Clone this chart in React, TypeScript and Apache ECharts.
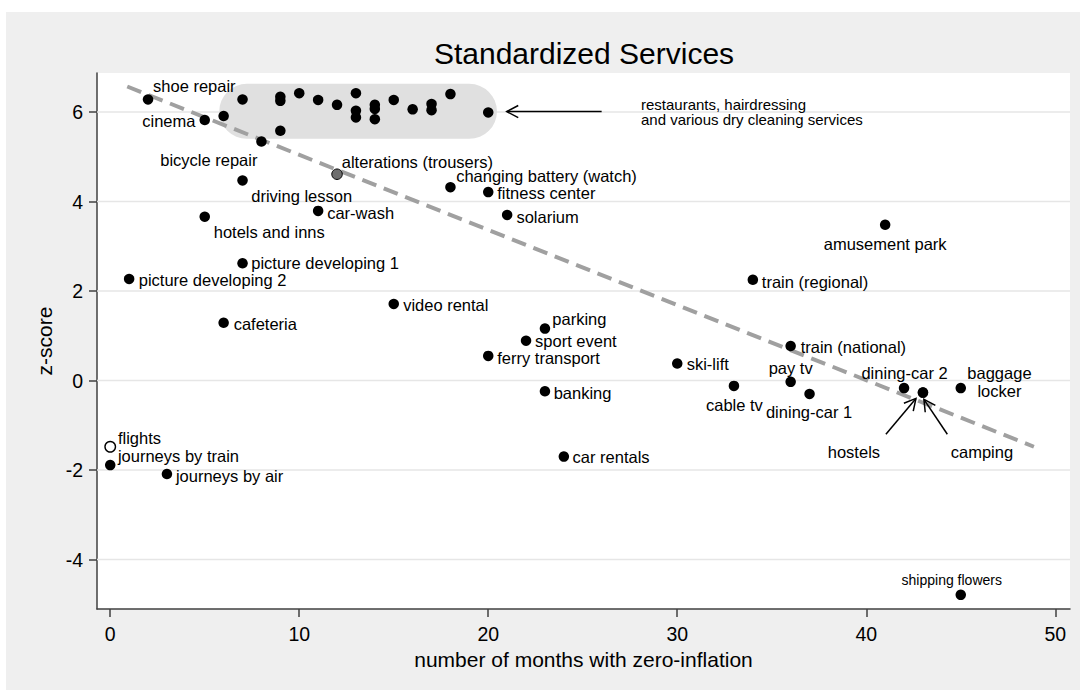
import React, { useEffect, useRef } from 'react';
import * as echarts from 'echarts';

// ---------- data ----------
const serviceNames = [
  'shoe repair', 'cinema', 'bicycle repair', 'alterations (trousers)', 'driving lesson',
  'changing battery (watch)', 'fitness center', 'hotels and inns', 'car-wash', 'solarium',
  'amusement park', 'picture developing 1', 'picture developing 2', 'train (regional)', 'video rental',
  'cafeteria', 'parking', 'sport event', 'train (national)', 'ferry transport',
  'ski-lift', 'pay tv', 'cable tv', 'dining-car 2', 'baggage locker',
  'banking', 'hostels', 'camping', 'dining-car 1', 'flights',
  'car rentals', 'journeys by train', 'journeys by air', 'shipping flowers',
];
const months = [
  2, 5, 8, 12, 7,
  18, 20, 5, 11, 21,
  41, 7, 1, 34, 15,
  6, 23, 22, 36, 20,
  30, 36, 33, 42, 45,
  23, 43, 43, 37, 0,
  24, 0, 3, 45,
];
const zScores = [
  6.28, 5.82, 5.34, 4.61, 4.47,
  4.32, 4.21, 3.66, 3.79, 3.70,
  3.48, 2.62, 2.27, 2.25, 1.71,
  1.29, 1.16, 0.89, 0.77, 0.55,
  0.38, -0.03, -0.12, -0.17, -0.17,
  -0.24, -0.27, -0.27, -0.30, -1.48,
  -1.70, -1.89, -2.09, -4.79,
];
// restaurants, hairdressing and various dry cleaning services (unlabelled group)
const clusterMonths = [6, 7, 9, 9, 10, 11, 12, 13, 13, 13, 14, 14, 14, 15, 16, 17, 17, 18, 20, 9];
const clusterScores = [5.91, 6.28, 6.34, 6.25, 6.42, 6.27, 6.16, 6.42, 6.03, 5.88, 6.16, 6.07, 5.84, 6.27, 6.06, 6.18, 6.04, 6.40, 5.99, 5.58];

const xTicks = [0, 10, 20, 30, 40, 50];
const yTicks = [-4, -2, 0, 2, 4, 6];

const trendMonths = [0.9, 48.87];
const trendScores = [6.57, -1.48];

// highlight box around the group: [x0, yTop, x1, yBottom]
const highlightBox = [5.77, 6.63, 20.46, 5.4];

const arrowTails = [[26.0, 6.01], [41.04, -1.2], [44.29, -1.2]];
const arrowHeads = [[20.98, 6.01], [42.63, -0.4], [43.05, -0.42]];
const arrowNotes = ['restaurants, hairdressing\nand various dry cleaning services', 'hostels', 'camping'];

// ---------- styling / layout ----------
const FONT = "'Liberation Sans', Arial, Helvetica, sans-serif";
const LABEL_SIZE = 16.5;

// [dx, dy, align] of the label relative to the marker centre
const labelLayout: Record<string, [number, number, string]> = {
  'shoe repair': [5, -13, 'left'],
  'cinema': [-9.3, 1, 'right'],
  'bicycle repair': [-4, 18.3, 'right'],
  'alterations (trousers)': [4.7, -12.6, 'left'],
  'driving lesson': [8.7, 15.7, 'left'],
  'changing battery (watch)': [5.7, -11, 'left'],
  'fitness center': [9, 1, 'left'],
  'hotels and inns': [9, 15, 'left'],
  'car-wash': [9, 2, 'left'],
  'solarium': [9.3, 1.7, 'left'],
  'amusement park': [0, 19.3, 'center'],
  'picture developing 1': [8.7, 0, 'left'],
  'picture developing 2': [9.6, 1.3, 'left'],
  'train (regional)': [9, 2, 'left'],
  'video rental': [9.4, 1, 'left'],
  'cafeteria': [10, 1.3, 'left'],
  'parking': [7.4, -9.5, 'left'],
  'sport event': [9, 0.3, 'left'],
  'train (national)': [10, 0.7, 'left'],
  'ferry transport': [9, 2, 'left'],
  'ski-lift': [9.4, 0.7, 'left'],
  'pay tv': [0, -13.7, 'center'],
  'cable tv': [0.5, 19.3, 'center'],
  'dining-car 2': [0.5, -14.7, 'center'],
  'baggage locker': [38.7, -6, 'center'],
  'banking': [8.7, 2, 'left'],
  'dining-car 1': [-0.5, 17.7, 'center'],
  'flights': [7.7, -9, 'left'],
  'car rentals': [8.7, 0.6, 'left'],
  'journeys by train': [7.7, -9.3, 'left'],
  'journeys by air': [9, 1.7, 'left'],
  'shipping flowers': [-9, -14.5, 'center'],
};
const labelText: Record<string, string> = { 'baggage locker': 'baggage\nlocker' };
const labelSize: Record<string, number> = { 'shipping flowers': 14 };
const labelLineHeight: Record<string, number> = { 'baggage locker': 17.4 };
const markerStyle: Record<string, any> = {
  'flights': { color: '#ffffff', borderColor: '#000', borderWidth: 1.4, opacity: 1 },
  'alterations (trousers)': { color: '#6e6e6e', borderColor: '#000', borderWidth: 1, opacity: 1 },
};
const noteLayout = [
  { dx: 39.3, dy: 0, align: 'left', size: 15, lh: 15 },
  { dx: -32, dy: 17.4, align: 'center', size: LABEL_SIZE, lh: 18 },
  { dx: 34.6, dy: 17.4, align: 'center', size: LABEL_SIZE, lh: 18 },
];

const X_MIN = -0.7, X_MAX = 50.78, Y_MIN = -5.106, Y_MAX = 6.872;

function buildOption() {
  const namedPoints = serviceNames.map((n, i) => {
    const lay = labelLayout[n];
    return {
      name: n,
      value: [months[i], zScores[i]],
      itemStyle: markerStyle[n] || { color: '#000', opacity: 1 },
      label: lay
        ? {
            show: true,
            position: ['50%', '50%'],
            offset: [lay[0], lay[1]],
            align: lay[2],
            verticalAlign: 'middle',
            formatter: labelText[n] || n,
            fontSize: labelSize[n] || LABEL_SIZE,
            lineHeight: labelLineHeight[n] || labelSize[n] || LABEL_SIZE,
            color: '#000',
            opacity: 1,
            fontFamily: FONT,
          }
        : { show: false },
    };
  });
  const clusterPoints = clusterMonths.map((m, i) => ({ value: [m, clusterScores[i]], label: { show: false } }));

  const axisLineStyle = { color: '#404040', width: 1.5 };

  return {
    animation: false,
    backgroundColor: '#efefef',
    graphic: [
      { type: 'rect', shape: { x: 0, y: 0, width: 1080, height: 12 }, style: { fill: '#fff' }, silent: true },
      { type: 'rect', shape: { x: 0, y: 0, width: 6, height: 690 }, style: { fill: '#fff' }, silent: true },
      {
        type: 'text', x: 584, y: 53, silent: true,
        style: { text: 'Standardized Services', fontSize: 30, fontFamily: FONT, fill: '#000', align: 'center', verticalAlign: 'middle' },
      },
    ],
    grid: { left: 97, top: 73, width: 973, height: 536, show: true, backgroundColor: '#fff', borderWidth: 0 },
    xAxis: {
      type: 'value', min: X_MIN, max: X_MAX,
      axisLine: { onZero: false, lineStyle: axisLineStyle },
      axisTick: { customValues: xTicks, length: 8, lineStyle: axisLineStyle },
      axisLabel: { customValues: xTicks, color: '#000', fontSize: 19.5, fontFamily: FONT, margin: 15 },
      splitLine: { show: false },
      name: 'number of months with zero-inflation', nameLocation: 'middle', nameGap: 33,
      nameTextStyle: { fontSize: 21, color: '#000', fontFamily: FONT },
    },
    yAxis: {
      type: 'value', min: Y_MIN, max: Y_MAX,
      axisLine: { onZero: false, lineStyle: axisLineStyle },
      axisTick: { customValues: yTicks, length: 8, lineStyle: axisLineStyle },
      axisLabel: { customValues: yTicks, color: '#000', fontSize: 19.5, fontFamily: FONT, margin: 14 },
      splitLine: { show: false },
      name: 'z-score', nameLocation: 'middle', nameGap: 40,
      nameTextStyle: { fontSize: 21, color: '#000', fontFamily: FONT },
    },
    series: [
      {
        type: 'custom', z: 1, silent: true,
        data: yTicks.map((v) => [0, v]),
        renderItem: (params: any, api: any) => {
          const cs = params.coordSys;
          const p = api.coord([0, api.value(1)]);
          return {
            type: 'line',
            shape: { x1: cs.x, y1: p[1], x2: cs.x + cs.width, y2: p[1] },
            style: { stroke: '#e6e6e6', lineWidth: 1.5 },
          };
        },
      },
      {
        type: 'custom', z: 2, silent: true,
        data: [highlightBox],
        encode: { x: [0, 2], y: [1, 3] },
        renderItem: (params: any, api: any) => {
          const p1 = api.coord([api.value(0), api.value(1)]);
          const p2 = api.coord([api.value(2), api.value(3)]);
          const h = p2[1] - p1[1];
          return {
            type: 'rect',
            shape: { x: p1[0], y: p1[1], width: p2[0] - p1[0], height: h, r: h / 2 },
            style: { fill: '#e0e0e0' },
          };
        },
      },
      {
        type: 'line', z: 3, silent: true, symbol: 'none',
        data: trendMonths.map((m, i) => [m, trendScores[i]]),
        lineStyle: { color: '#a0a0a0', width: 4, type: [15, 8] },
      },
      {
        type: 'custom', z: 4, silent: true,
        data: arrowTails.map((t, i) => [t[0], t[1], arrowHeads[i][0], arrowHeads[i][1]]),
        encode: { x: [0, 2], y: [1, 3] },
        renderItem: (params: any, api: any) => {
          const t = api.coord([api.value(0), api.value(1)]);
          const h = api.coord([api.value(2), api.value(3)]);
          const dx = t[0] - h[0], dy = t[1] - h[1];
          const len = Math.sqrt(dx * dx + dy * dy);
          const ux = dx / len, uy = dy / len;
          const a = (28 * Math.PI) / 180, L = 13;
          const w1 = [h[0] + L * (ux * Math.cos(a) - uy * Math.sin(a)), h[1] + L * (ux * Math.sin(a) + uy * Math.cos(a))];
          const w2 = [h[0] + L * (ux * Math.cos(-a) - uy * Math.sin(-a)), h[1] + L * (ux * Math.sin(-a) + uy * Math.cos(-a))];
          const lay = noteLayout[params.dataIndex];
          return {
            type: 'group',
            children: [
              { type: 'line', shape: { x1: t[0], y1: t[1], x2: h[0], y2: h[1] }, style: { stroke: '#000', lineWidth: 1.5 } },
              { type: 'polyline', shape: { points: [w1, h, w2] }, style: { stroke: '#000', lineWidth: 1.5, fill: 'none' } },
              {
                type: 'text', x: t[0] + lay.dx, y: t[1] + lay.dy,
                style: {
                  text: arrowNotes[params.dataIndex], fontSize: lay.size, lineHeight: lay.lh, fontFamily: FONT,
                  fill: '#000', align: lay.align, verticalAlign: 'middle',
                },
              },
            ],
          };
        },
      },
      {
        type: 'scatter', z: 5, silent: true,
        symbol: 'circle', symbolSize: 10.5,
        itemStyle: { color: '#000', opacity: 1 },
        data: [...clusterPoints, ...namedPoints],
      },
    ],
  };
}

export default function App() {
  const ref = useRef<HTMLDivElement>(null);
  useEffect(() => {
    const chart = echarts.init(ref.current!, null, { renderer: 'svg' });
    chart.setOption(buildOption() as any);
    return () => chart.dispose();
  }, []);
  return <div ref={ref} style={{ position: 'absolute', left: 0, top: 0, width: 1080, height: 690 }} />;
}
